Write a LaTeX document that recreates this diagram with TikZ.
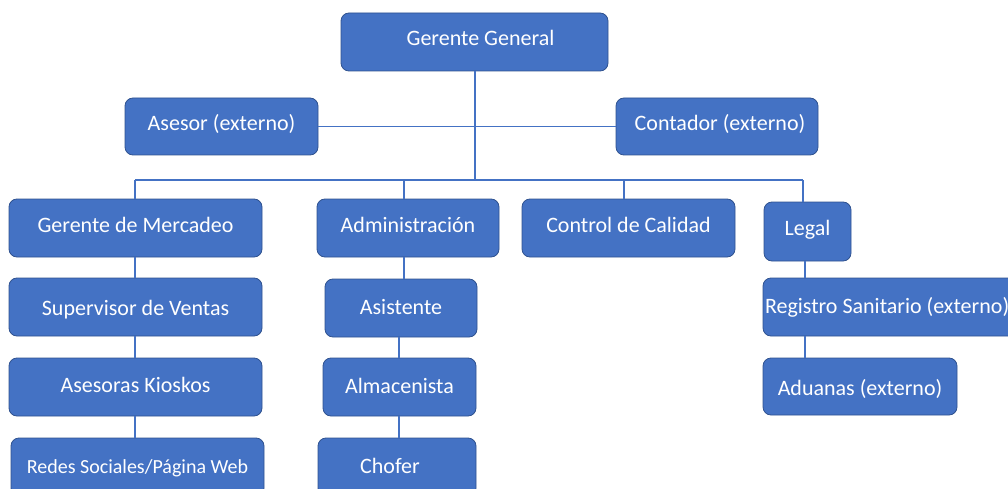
\documentclass[tikz,border=0pt]{standalone}
\usepackage{fontspec}
\setmainfont{Carlito}
\definecolor{boxblue}{HTML}{4472C4}
\definecolor{boxedge}{HTML}{2F528F}
\begin{document}
\begin{tikzpicture}[x=1pt,y=-1pt,
  box/.style={draw=boxedge,line width=0.8pt,fill=boxblue,rounded corners=8pt,
    text=white,font=\fontsize{22}{26}\selectfont,inner sep=2pt,
    text height=16pt,text depth=2.5pt},
  link/.style={draw=boxblue,line width=1.4pt}]
\useasboundingbox (0,0) rectangle (1008,489);
\clip (0,0) rectangle (1008,489);
% helper: [text raise] name, box at (x1,y1)-(x2,y2), text
\newcommand{\orgbox}[7][0pt]{%
  \node[box,minimum width={#5-#3},minimum height={#6-#4}] (#2) at ({(#3+#5)/2},{(#4+#6)/2}) {\raisebox{#1}{#7}};}
\orgbox[3.5pt]{gg}{341}{13}{608}{71}{\hspace*{12pt}Gerente General}
\orgbox[2.5pt]{ase}{125}{98}{318}{155}{Asesor (externo)}
\orgbox[2.5pt]{con}{616}{98}{818}{155}{\hspace*{6pt}Contador (externo)}
\orgbox[2pt]{mer}{9}{199}{262}{257}{Gerente de Mercadeo}
\orgbox[-2pt]{sup}{9}{278}{262}{336}{Supervisor de Ventas}
\orgbox[1pt]{kio}{9}{358}{262}{416}{Asesoras Kioskos}
\orgbox{red}{11}{438}{264}{496}{\fontsize{20}{24}\selectfont Redes Sociales/Página Web}
\orgbox[2pt]{adm}{317}{199}{499}{257}{Administración}
\orgbox{asi}{325}{279}{477}{337}{Asistente}
\orgbox{alm}{323}{358}{476}{416}{Almacenista}
\orgbox{cho}{318}{438}{476}{496}{Chofer\hspace*{14pt}}
\orgbox[2pt]{cal}{522}{199}{735}{257}{Control de Calidad}
\orgbox[2.5pt]{leg}{764}{202}{851}{261}{Legal}
\orgbox{reg}{763}{278}{1030}{336}{\makebox[263pt][l]{Registro Sanitario (externo)}}
\orgbox[-2.5pt]{adu}{763}{358}{957}{415}{Aduanas (externo)}
% connectors
\coordinate (busL) at (135,180);
\coordinate (busR) at (803,180);
\coordinate (gbus) at (475,180);
\draw[link] (gg.south -| gbus) -- (gbus);
\draw[link] (ase.east) -- (con.west);
\draw[link] (busL) -- (busR);
\draw[link] (busL) -- (busL |- mer.north);
\draw[link] (404,180) coordinate (b2) -- (b2 |- adm.north);
\draw[link] (624,180) coordinate (b3) -- (b3 |- cal.north);
\draw[link] (busR) -- (busR |- leg.north);
\draw[link] (mer.south -| busL) -- (sup.north -| busL);
\draw[link] (sup.south -| busL) -- (kio.north -| busL);
\draw[link] (kio.south -| busL) -- (red.north -| busL);
\draw[link] (adm.south -| b2) -- (asi.north -| b2);
\coordinate (c2) at (399,0);
\draw[link] (asi.south -| c2) -- (alm.north -| c2);
\draw[link] (alm.south -| c2) -- (cho.north -| c2);
\coordinate (c4) at (805,0);
\draw[link] (leg.south -| c4) -- (reg.north -| c4);
\draw[link] (reg.south -| c4) -- (adu.north -| c4);
\end{tikzpicture}
\end{document}
